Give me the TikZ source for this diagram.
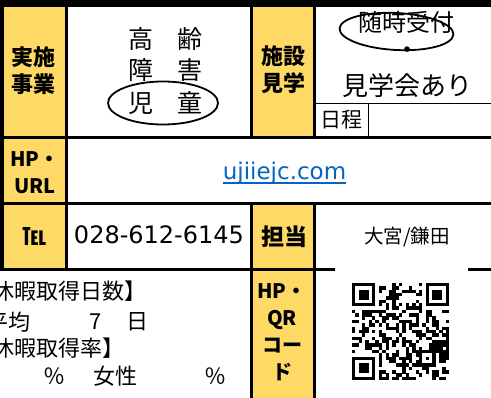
\documentclass[tikz,border=0pt]{standalone}
\usepackage{fontspec}
\setmainfont{Noto Sans CJK JP}
\newfontfamily\numfont{DejaVu Sans}
\usetikzlibrary{positioning}
\definecolor{cellyellow}{RGB}{255,217,102}
\definecolor{linkblue}{RGB}{5,99,193}

\begin{document}
\begin{tikzpicture}
            [
            x=1pt, y=-1pt,
            grid line/.style={line width=3pt},
            fine line/.style={line width=0.8pt},
            head/.style={inner sep=0pt, align=center,
                font=\bfseries\fontsize{#1}{27}\selectfont},
            head/.default=22,
            body/.style={inner sep=0pt, font=\fontsize{#1}{#1}\selectfont},
            body/.default=22,
            latin/.style={inner sep=0pt, anchor=base,
                font=\numfont\fontsize{#1}{#1}\selectfont},
            circled/.style={line width=1.8pt}
            ]

            \useasboundingbox (0,0) rectangle (491,398);
            \clip (0,0) rectangle (491,398);

            % yellow header cells
            \fill [cellyellow] (2,7) rectangle (66.5,269.5);
            \fill [cellyellow] (251.5,7) rectangle (314.5,137.5);
            \fill [cellyellow] (251.5,203.5) rectangle (314.5,398);

            % table rules
            \fill (0,0) rectangle (491,7);
            \foreach \y in {137.5, 203.5, 269.5}
                \draw [grid line] (0,\y) -- (491,\y);
            \draw [grid line] (2,7) -- (2,269.5);
            \draw [grid line] (66.5,7) -- (66.5,269.5);
            \foreach \x in {251.5, 314.5}{
                \draw [grid line] (\x,7) -- (\x,137.5);
                \draw [grid line] (\x,203.5) -- (\x,398);
            }
            \draw [fine line] (316,103) -- (491,103);
            \draw [fine line] (368,103) -- (368,136);

            % QR code
            \fill [white] (335,268) rectangle (468,398);
            \begin{scope}[shift={(352,283)}, x=3.35pt, y=-3.35pt]
                \foreach \fx/\fy in {0/0, 22/0, 0/22}{
                    \fill (\fx,\fy) rectangle ++(7,7);
                    \fill [white] (\fx+1,\fy+1) rectangle ++(5,5);
                    \fill (\fx+2,\fy+2) rectangle ++(3,3);
                }
                \fill (20,20) rectangle ++(5,5);
                \fill [white] (21,21) rectangle ++(3,3);
                \fill (22,22) rectangle ++(1,1);
                \foreach \k in {8,10,...,20}{
                    \fill (\k,6) rectangle ++(1,1);
                    \fill (6,\k) rectangle ++(1,1);
                }
                \pgfmathsetseed{4217}
                \foreach \r in {0,...,28}{
                    \foreach \c in {0,...,28}{
                        \pgfmathtruncatemacro\qrskip{(\r<8 && \c<8) || (\r<8 && \c>20)
                            || (\r>20 && \c<8) || (\r>19 && \r<25 && \c>19 && \c<25)
                            || \r==6 || \c==6}
                        \pgfmathtruncatemacro\qrbit{rnd<0.5}
                        \ifnum\qrskip=0 \ifnum\qrbit=1
                            \fill (\c,\r) rectangle ++(1.02,1.02);
                        \fi\fi
                    }
                }
            \end{scope}

            % row 1
            \node (jisshi) [head] at (34,70.5) {実施\\事業};
            \node (kourei) [body=25] at (165.5,39) {高　齢};
            \node (shogai) [body=25] at (165.5,70) {障　害};
            \node (jido) [body=25] at (165.5,103) {児　童};
            \draw [circled] ([xshift=-2.5pt]jido.center) ellipse [x radius=55pt, y radius=21.5pt];

            \node (shisetsu) [head] at (283,70) {施設\\見学};
            \node (zuiji) [body=24] at (406,22) {随時受付};
            \node (middot) [body=26] at (407,53) {・};
            \node (kengaku) [body=26] at (407,86) {見学会あり};
            \draw [circled] ([xshift=-9.5pt,yshift=-9.5pt]zuiji.center)
                ellipse [x radius=57pt, y radius=18.5pt, rotate=-3];
            \node (nittei) [body=21] at (341,120) {日程};

            % row 2
            \node (hpurl) [head=20] at (35,172.5) {HP・\\URL};
            \node (url) [latin=23, text=linkblue] at (284.5,179.5) {ujiiejc.com};
            \draw [linkblue, line width=1.3pt] ([yshift=-3.5pt]url.base west) -- ([yshift=-3.5pt]url.base east);

            % row 3
            \node (tel) [head=24] at (35,237) {℡};
            \node (phone) [latin=24] at (159,243.5) {028-612-6145};
            \node (tanto) [head=23] at (284,237) {担当};
            \node (staff) [body=19.5] at (407,237) {大宮/鎌田};

            % row 4
            \node (daysA) [body, anchor=west] at (-7.5,291) {休暇取得日数】};
            \node (avg) [body, anchor=west] at (-14,322) {平均};
            \node (seven) [body] at (95.5,322) {7};
            \node (day) [body] at (137.5,322) {日};
            \node (rateA) [body, anchor=west] at (-7.5,348) {休暇取得率】};
            \node (pctA) [body] at (55,376) {％};
            \node (female) [body] at (115,376) {女性};
            \node (pctB) [body] at (215,376) {％};
            \node (hpqr) [head=20] at (282,332) {HP・\\QR\\コー\\ド};

        \end{tikzpicture}
\end{document}
